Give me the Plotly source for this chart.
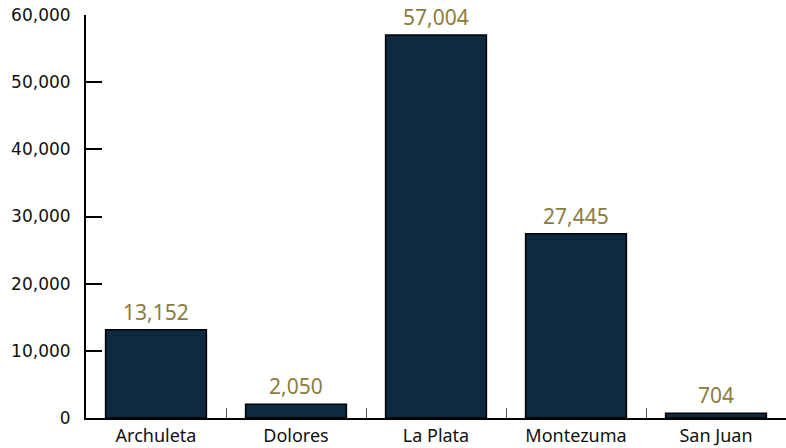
import plotly.graph_objects as go

counties = ["Archuleta", "Dolores", "La Plata", "Montezuma", "San Juan"]
population = [13152, 2050, 57004, 27445, 704]
y_ticks = [0, 10000, 20000, 30000, 40000, 50000, 60000]

fig = go.Figure(
    go.Bar(
        x=counties,
        y=population,
        width=0.72,
        marker=dict(color="#0f2940", line=dict(color="#000000", width=1.5)),
        hoverinfo="x+y",
    )
)

# value labels sitting above each bar
for name, value in zip(counties, population):
    fig.add_annotation(
        x=name,
        y=value,
        text=f"{value:,}",
        showarrow=False,
        yanchor="bottom",
        yshift=2,
        font=dict(family="Noto Sans, sans-serif", size=21, color="#8d7b3b"),
    )

fig.update_layout(
    width=786,
    height=448,
    margin=dict(l=86, r=0, t=15, b=30),
    plot_bgcolor="white",
    paper_bgcolor="white",
    showlegend=False,
    xaxis=dict(
        showline=True,
        linecolor="#000000",
        linewidth=2,
        ticks="inside",
        tickson="boundaries",
        ticklen=10,
        tickcolor="#555555",
        tickfont=dict(family="Noto Sans, sans-serif", size=18, color="#111111"),
        showgrid=False,
    ),
    yaxis=dict(
        range=[0, 60000],
        tickvals=y_ticks,
        ticktext=[f"{v:,}" for v in y_ticks],
        showline=True,
        linecolor="#000000",
        linewidth=2,
        ticks="inside",
        ticklen=16,
        tickcolor="#000000",
        tickwidth=1.5,
        ticklabelstandoff=10,
        tickfont=dict(family="DejaVu Sans, sans-serif", size=17, color="#111111"),
        showgrid=False,
        zeroline=False,
    ),
)

fig.write_html("out.html")
